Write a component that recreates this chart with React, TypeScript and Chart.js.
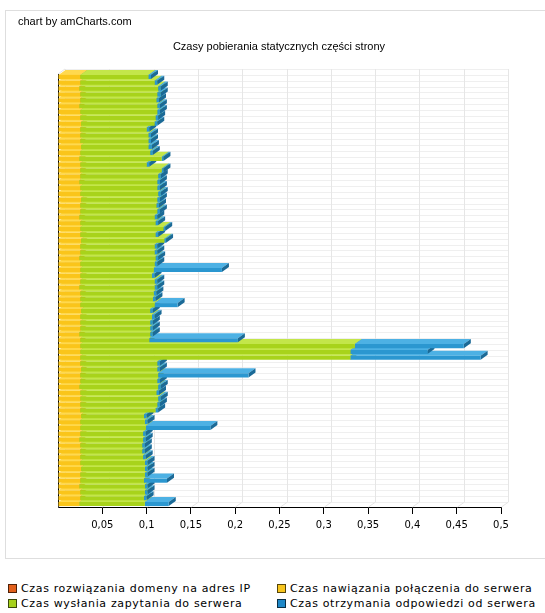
import { useEffect, useRef } from 'react';
import { Chart, registerables } from 'chart.js';
Chart.register(...registerables);

const credit = 'chart by amCharts.com';
const title = 'Czasy pobierania statycznych części strony';

const seriesLabels = [
  'Czas rozwiązania domeny na adres IP',
  'Czas nawiązania połączenia do serwera',
  'Czas wysłania zapytania do serwera',
  'Czas otrzymania odpowiedzi od serwera',
];

const categories = [
  '1', '2', '3', '4', '5', '6', '7', '8', '9', '10',
  '11', '12', '13', '14', '15', '16', '17', '18', '19', '20',
  '21', '22', '23', '24', '25', '26', '27', '28', '29', '30',
  '31', '32', '33', '34', '35', '36', '37', '38', '39', '40',
  '41', '42', '43', '44', '45', '46', '47', '48', '49', '50',
  '51', '52', '53', '54', '55', '56', '57', '58', '59', '60',
  '61', '62', '63', '64', '65', '66', '67', '68', '69', '70',
  '71', '72', '73', '74',
];

const dnsTime = [
  0, 0, 0, 0, 0, 0, 0, 0, 0, 0,
  0, 0, 0, 0, 0, 0, 0, 0, 0, 0,
  0, 0, 0, 0, 0, 0, 0, 0, 0, 0,
  0, 0, 0, 0, 0, 0, 0, 0, 0, 0,
  0, 0, 0, 0, 0, 0, 0, 0, 0, 0,
  0, 0, 0, 0, 0, 0, 0, 0, 0, 0,
  0, 0, 0, 0, 0, 0, 0, 0, 0, 0,
  0, 0, 0, 0,
];

const connectTime = [
  0.025, 0.025, 0.024, 0.025, 0.025, 0.024, 0.025, 0.025, 0.026, 0.025,
  0.025, 0.025, 0.026, 0.025, 0.024, 0.025, 0.025, 0.025, 0.024, 0.025,
  0.025, 0.026, 0.025, 0.025, 0.024, 0.025, 0.025, 0.025, 0.026, 0.025,
  0.025, 0.024, 0.025, 0.025, 0.025, 0.025, 0.024, 0.025, 0.025, 0.025,
  0.026, 0.025, 0.025, 0.025, 0.024, 0.025, 0.025, 0.025, 0.025, 0.025,
  0.026, 0.025, 0.025, 0.024, 0.025, 0.025, 0.025, 0.025, 0.026, 0.025,
  0.025, 0.025, 0.024, 0.025, 0.025, 0.025, 0.025, 0.026, 0.025, 0.025,
  0.024, 0.025, 0.025, 0.024,
];

const sendTime = [
  0.077, 0.084, 0.089, 0.087, 0.086, 0.088, 0.087, 0.085, 0.083, 0.075,
  0.077, 0.077, 0.076, 0.079, 0.093, 0.075, 0.092, 0.088, 0.088, 0.087,
  0.088, 0.086, 0.086, 0.087, 0.085, 0.085, 0.094, 0.085, 0.094, 0.084,
  0.084, 0.086, 0.084, 0.083, 0.081, 0.084, 0.085, 0.083, 0.082, 0.084,
  0.078, 0.081, 0.079, 0.079, 0.080, 0.078, 0.310, 0.305, 0.305, 0.087,
  0.086, 0.088, 0.087, 0.089, 0.086, 0.088, 0.087, 0.085, 0.071, 0.073,
  0.074, 0.071, 0.072, 0.070, 0.070, 0.071, 0.073, 0.072, 0.073, 0.072,
  0.074, 0.073, 0.072, 0.074,
];

const receiveTime = [
  0.003, 0.003, 0.003, 0.004, 0.003, 0.003, 0.003, 0.003, 0.003, 0.003,
  0.003, 0.003, 0.004, 0.003, 0.002, 0.003, 0.002, 0.003, 0.003, 0.003,
  0.003, 0.003, 0.003, 0.003, 0.003, 0.003, 0.002, 0.003, 0.002, 0.003,
  0.003, 0.003, 0.003, 0.077, 0.003, 0.003, 0.003, 0.003, 0.003, 0.026,
  0.003, 0.003, 0.003, 0.003, 0.003, 0.100, 0.123, 0.087, 0.147, 0.003,
  0.003, 0.102, 0.003, 0.003, 0.003, 0.003, 0.003, 0.003, 0.003, 0.003,
  0.073, 0.003, 0.003, 0.003, 0.003, 0.003, 0.003, 0.003, 0.003, 0.026,
  0.003, 0.003, 0.003, 0.027,
];

const xTickValues = [0.05, 0.1, 0.15, 0.2, 0.25, 0.3, 0.35, 0.4, 0.45, 0.5];

const FRONT = ['#E2601C', '#FAC51A', '#A8D31B', '#2B97D0'];
const TOP = ['#F0834A', '#FFD94E', '#C3E64A', '#4DB1E4'];
const SIDE = ['#A9420F', '#C99A0B', '#7FA112', '#1B6A97'];
const LEGEND_COLORS = ['#E2601C', '#F7C51E', '#A6D11C', '#1E88C8'];
const DX = 7;
const DY = 5;

const fmt = (v: number) => (v === 0 ? '' : String(Number(v.toFixed(2))).replace('.', ','));

const depthPlugin = {
  id: 'depth3d',
  beforeDraw(chart: any) {
    const ctx = chart.ctx;
    ctx.save();
    ctx.fillStyle = '#ffffff';
    ctx.fillRect(0, 0, chart.width, chart.height);
    ctx.strokeStyle = '#dedede';
    ctx.lineWidth = 1;
    ctx.strokeRect(5.5, 10.5, chart.width + 20, 548);
    ctx.fillStyle = '#000';
    ctx.font = '11px "Liberation Sans", Arial, sans-serif';
    ctx.textBaseline = 'middle';
    ctx.textAlign = 'left';
    ctx.fillText(credit, 18, 22);
    ctx.textAlign = 'center';
    ctx.fillText(title, 279, 47);
    ctx.restore();
  },
  beforeDatasetsDraw(chart: any) {
    const { ctx, chartArea: a, scales } = chart;
    const xs = scales.x;
    const n = categories.length;
    const slot = (a.bottom - a.top) / n;
    ctx.save();
    ctx.lineWidth = 1;
    ctx.strokeStyle = '#efefef';
    ctx.beginPath();
    for (let i = 0; i <= n; i++) {
      const py = Math.round(a.top + i * slot - DY) + 0.5;
      ctx.moveTo(a.left + DX, py);
      ctx.lineTo(a.right + DX, py);
    }
    ctx.stroke();
    ctx.strokeStyle = '#e6e6e6';
    ctx.beginPath();
    for (const t of [0, ...xTickValues]) {
      const px = Math.round(xs.getPixelForValue(t)) + 0.5;
      ctx.moveTo(px + DX, a.top - DY);
      ctx.lineTo(px + DX, a.bottom - DY);
      ctx.moveTo(px, a.bottom);
      ctx.lineTo(px + DX, a.bottom - DY);
    }
    ctx.moveTo(a.left, a.top);
    ctx.lineTo(a.left + DX, a.top - DY);
    ctx.stroke();

    const metas = [0, 1, 2, 3].map((i) => chart.getDatasetMeta(i));
    for (let r = n - 1; r >= 0; r--) {
      for (let d = 0; d < 4; d++) {
        const el = metas[d].data[r];
        if (!el) continue;
        const p = el.getProps(['x', 'y', 'base', 'height'], true);
        const left = Math.min(p.base, p.x);
        const right = Math.max(p.base, p.x);
        if (right - left < 0.5) continue;
        const top = p.y - p.height / 2;
        const bottom = p.y + p.height / 2;
        ctx.fillStyle = TOP[d];
        ctx.beginPath();
        ctx.moveTo(left, top);
        ctx.lineTo(left + DX, top - DY);
        ctx.lineTo(right + DX, top - DY);
        ctx.lineTo(right, top);
        ctx.closePath();
        ctx.fill();
        ctx.fillStyle = SIDE[d];
        ctx.beginPath();
        ctx.moveTo(right, top);
        ctx.lineTo(right + DX, top - DY);
        ctx.lineTo(right + DX, bottom - DY);
        ctx.lineTo(right, bottom);
        ctx.closePath();
        ctx.fill();
      }
    }
    ctx.restore();
  },
};

export default function App() {
  const ref = useRef<HTMLCanvasElement>(null);
  useEffect(() => {
    if (!ref.current) return;
    const series = [dnsTime, connectTime, sendTime, receiveTime];
    const chart = new Chart(ref.current, {
      type: 'bar',
      data: {
        labels: categories,
        datasets: series.map((vals, i) => ({
          label: seriesLabels[i],
          data: vals,
          backgroundColor: FRONT[i],
          borderWidth: 0,
          barPercentage: 0.7,
          categoryPercentage: 1,
        })),
      },
      options: {
        indexAxis: 'y',
        responsive: false,
        animation: false,
        events: [],
        layout: { padding: { left: 58, right: 44, top: 74, bottom: 23 } },
        plugins: { legend: { display: false }, tooltip: { enabled: false }, title: { display: false } },
        scales: {
          x: {
            type: 'linear',
            stacked: true,
            min: 0,
            max: 0.5,
            z: 1,
            afterFit: (s: any) => { s.height = 30; },
            ticks: {
              stepSize: 0.05,
              autoSkip: false,
              maxRotation: 0,
              padding: 5,
              color: '#000',
              font: { family: '"DejaVu Sans", Verdana, sans-serif', size: 10 },
              callback: (v: any) => fmt(Number(v)),
            },
            grid: {
              drawOnChartArea: false,
              drawTicks: true,
              tickLength: 7,
              color: (c: any) => (c.tick && c.tick.value === 0 ? 'rgba(0,0,0,0)' : '#000'),
            },
            border: { display: true, color: '#000', width: 1 },
          },
          y: {
            type: 'category',
            stacked: true,
            z: 1,
            afterFit: (s: any) => { s.width = 0; },
            ticks: { display: false },
            grid: { drawOnChartArea: false, drawTicks: false },
            border: { display: true, color: '#000', width: 1 },
          },
        },
      },
      plugins: [depthPlugin],
    });
    return () => chart.destroy();
  }, []);

  const legendPos = [
    { x: 8, y: 588 },
    { x: 277, y: 588 },
    { x: 8, y: 603 },
    { x: 277, y: 603 },
  ];

  return (
    <div style={{ position: 'absolute', left: 0, top: 0, width: 545, height: 613, overflow: 'hidden', background: '#fff' }}>
      <canvas ref={ref} width={545} height={560} style={{ position: 'absolute', left: 0, top: 0, width: 545, height: 560 }} />
      {seriesLabels.map((lab, i) => (
        <div
          key={lab}
          style={{
            position: 'absolute',
            left: legendPos[i].x,
            top: legendPos[i].y - 8,
            height: 16,
            display: 'flex',
            alignItems: 'center',
            whiteSpace: 'nowrap',
            fontFamily: '"DejaVu Sans", Verdana, sans-serif',
            fontSize: 11,
            letterSpacing: '0.65px',
            color: '#000',
          }}
        >
          <span
            style={{
              display: 'inline-block',
              width: 7,
              height: 7,
              background: LEGEND_COLORS[i],
              border: '1px solid rgba(0,0,0,0.65)',
              marginRight: 4,
            }}
          />
          <span>{lab}</span>
        </div>
      ))}
    </div>
  );
}
